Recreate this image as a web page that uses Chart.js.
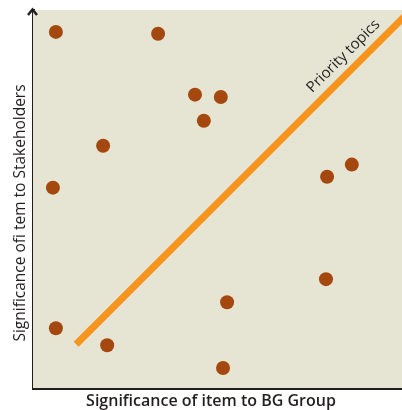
<!DOCTYPE html>
<html>
<head>
<meta charset="utf-8">
<script src="https://cdn.jsdelivr.net/npm/chart.js@4.4.0/dist/chart.umd.min.js"></script>
<style>
  html, body { margin: 0; padding: 0; background: #fff; }
</style>
</head>
<body>
<canvas id="matrix" width="402" height="410"></canvas>
<script>
// significance scores (0-100 on both axes)
const bgGroupScore = [6.2, 33.9, 43.9, 50.9, 46.3, 19.0, 5.4, 79.7, 86.4, 79.4, 52.6, 6.2, 20.1, 51.5];
const stakeholderScore = [94.2, 93.7, 77.6, 77.0, 70.7, 64.1, 53.0, 55.9, 59.1, 28.8, 22.7, 15.8, 11.3, 5.3];
const priorityLineX = [11.7, 102.4];
const priorityLineY = [11.6, 100];
const priorityLabel = 'Priority topics';
const xTitle = 'Significance of item to BG Group';
const yTitle = 'Significance ofi tem to Stakeholders';

const ink = '#231f20';
const beige = '#e6e4d2';

const matrixExtras = {
    id: 'matrixExtras',
    beforeDatasetsDraw(chart) {
        const { ctx, chartArea } = chart;
        ctx.save();
        ctx.fillStyle = beige;
        ctx.fillRect(chartArea.left, chartArea.top, chartArea.right - chartArea.left, chartArea.bottom - chartArea.top);
        ctx.restore();
    },
    afterDraw(chart) {
        const { ctx, chartArea, scales } = chart;
        // arrow head on the y axis
        const ax = chartArea.left - 0.5;
        ctx.save();
        ctx.strokeStyle = ink;
        ctx.lineWidth = 2.5;
        ctx.beginPath();
        ctx.moveTo(ax - 4.5, chartArea.top + 5);
        ctx.lineTo(ax, chartArea.top - 0.5);
        ctx.lineTo(ax + 4.5, chartArea.top + 5);
        ctx.stroke();
        ctx.restore();

        // axis titles
        ctx.save();
        ctx.fillStyle = ink;
        ctx.textBaseline = 'alphabetic';
        ctx.textAlign = 'center';
        ctx.font = '600 16px "Open Sans"';
        ctx.fillText(xTitle, chartArea.left + 178, chartArea.bottom + 18);
        ctx.translate(chartArea.left - 8, chartArea.bottom - 175);
        ctx.rotate(-Math.PI / 2);
        ctx.font = '15.5px "Open Sans"';
        ctx.fillText(yTitle, 0, 0);
        ctx.restore();

        // label along the priority line
        const x1 = scales.x.getPixelForValue(priorityLineX[0]);
        const y1 = scales.y.getPixelForValue(priorityLineY[0]);
        const x2 = scales.x.getPixelForValue(priorityLineX[1]);
        const y2 = scales.y.getPixelForValue(priorityLineY[1]);
        const angle = Math.atan2(y2 - y1, x2 - x1);
        const t = 0.83;
        ctx.save();
        ctx.translate(x1 + (x2 - x1) * t, y1 + (y2 - y1) * t);
        ctx.rotate(angle);
        ctx.fillStyle = ink;
        ctx.font = '15px "Open Sans"';
        ctx.textAlign = 'center';
        ctx.textBaseline = 'middle';
        ctx.fillText(priorityLabel, 0, -15);
        ctx.restore();
    }
};

const points = bgGroupScore.map((x, i) => ({ x: x, y: stakeholderScore[i] }));
const line = priorityLineX.map((x, i) => ({ x: x, y: priorityLineY[i] }));

new Chart(document.getElementById('matrix'), {
    type: 'scatter',
    data: {
        datasets: [{
            data: points,
            backgroundColor: '#a5480f',
            borderWidth: 0,
            pointRadius: 7,
            order: 0
        }, {
            data: line,
            showLine: true,
            borderColor: '#f7941e',
            borderWidth: 7,
            borderCapStyle: 'butt',
            pointRadius: 0,
            clip: 0,
            order: 1
        }]
    },
    options: {
        responsive: false,
        devicePixelRatio: 1,
        animation: false,
        layout: { autoPadding: false, padding: { top: 10, right: 0, left: 0, bottom: 0 } },
        plugins: { legend: { display: false }, tooltip: { enabled: false } },
        scales: {
            x: {
                min: 0,
                max: 100,
                ticks: { display: false },
                grid: { display: false, drawTicks: false },
                border: { display: true, color: ink, width: 3 },
                afterFit(scale) { scale.height = 22; }
            },
            y: {
                min: 0,
                max: 100,
                ticks: { display: false },
                grid: { display: false, drawTicks: false },
                border: { display: true, color: ink, width: 3 },
                afterFit(scale) { scale.width = 33; }
            }
        }
    },
    plugins: [matrixExtras]
});
</script>
</body>
</html>
